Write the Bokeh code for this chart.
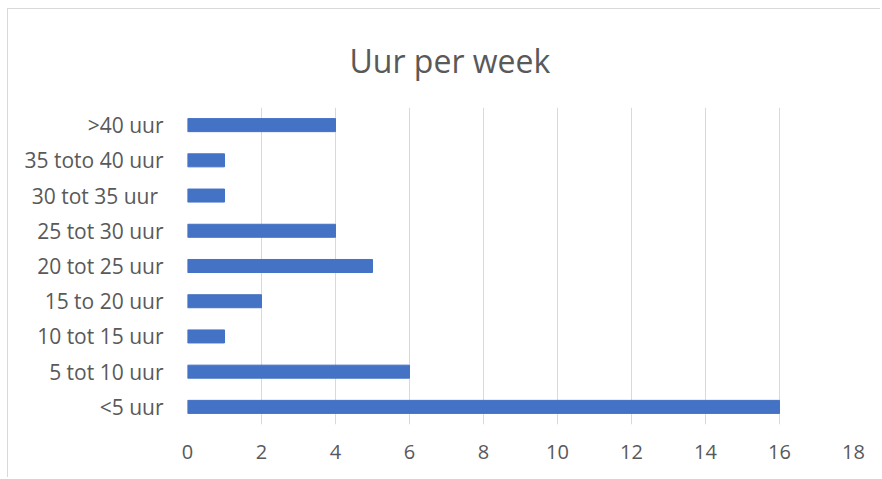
from bokeh.plotting import figure
from bokeh.embed import file_html
from bokeh.resources import INLINE
from bokeh.models import ColumnDataSource, Title, FixedTicker

categories = [">40 uur", "35 toto 40 uur", "30 tot 35 uur ", "25 tot 30 uur", "20 tot 25 uur",
              "15 to 20 uur", "10 tot 15 uur", "5 tot 10 uur", "<5 uur"]
values = [4, 1, 1, 4, 5, 2, 1, 6, 16]
x_ticks = [0, 2, 4, 6, 8, 10, 12, 14, 16, 18]
title_text = "Uur per week"

source = ColumnDataSource(data=dict(cat=categories, val=values))

p = figure(width=873, height=469, y_range=list(reversed(categories)), x_range=(0, 18),
           output_backend="svg", toolbar_location=None,
           min_border_left=179, min_border_right=28, min_border_top=98, min_border_bottom=54,
           styles={"border-left": "1px solid #d9d9d9", "border-top": "1px solid #d9d9d9",
                   "margin-left": "7px", "margin-top": "8px"})
p.title = None
t = Title(text=title_text, align="left", offset=162, text_font="Open Sans",
          text_font_size="32px", text_font_style="normal", text_color="#595959", standoff=52)
p.add_layout(t, "above")

p.hbar(y="cat", right="val", left=0, height=0.37, source=source, color="#4472C4")

p.outline_line_color = None
p.ygrid.grid_line_color = None
p.xgrid.grid_line_color = "#d9d9d9"
p.xgrid.grid_line_width = 1
p.xaxis.ticker = FixedTicker(ticks=x_ticks)

for ax in (p.xaxis, p.yaxis):
    ax.axis_line_color = None
    ax.major_tick_line_color = None
    ax.minor_tick_line_color = None
    ax.major_tick_out = 0
    ax.major_tick_in = 0
    ax.major_label_text_font = "Open Sans"
    ax.major_label_text_font_size = "20px"
    ax.major_label_text_color = "#595959"
p.yaxis.major_label_text_font_size = "21px"
p.yaxis.major_label_standoff = 24
p.xaxis.major_label_standoff = 20

open("out.html", "w").write(file_html(p, INLINE))
